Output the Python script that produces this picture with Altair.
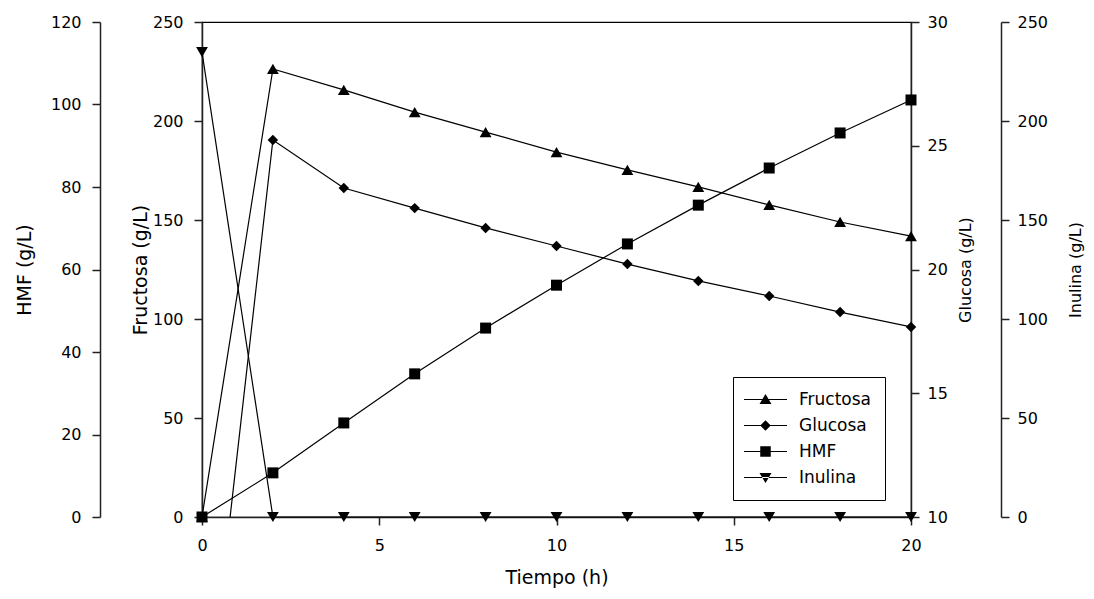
import altair as alt
import pandas as pd

# Data
tiempo = [0, 2, 4, 6, 8, 10, 12, 14, 16, 18, 20]
fructosa = [0, 226.3, 215.7, 204.5, 194.4, 184.3, 175.3, 166.7, 157.6, 149.0, 141.9]
glucosa = [0, 25.23, 23.29, 22.48, 21.68, 20.95, 20.22, 19.54, 18.93, 18.28, 17.68]
hmf = [0, 10.7, 22.8, 34.7, 45.8, 56.2, 66.2, 75.6, 84.6, 93.1, 101.1]
inulina = [234.8, 0, 0, 0, 0, 0, 0, 0, 0, 0, 0]

series = ["Fructosa", "Glucosa", "HMF", "Inulina"]
x_ticks = [0, 5, 10, 15, 20]
hmf_ticks = [0, 20, 40, 60, 80, 100, 120]
fru_ticks = [0, 50, 100, 150, 200, 250]
glu_ticks = [10, 15, 20, 25, 30]
inu_ticks = [0, 50, 100, 150, 200, 250]

df = pd.DataFrame({"t": tiempo, "Fructosa": fructosa, "Glucosa": glucosa,
                   "HMF": hmf, "Inulina": inulina})

FONT = "DejaVu Sans"

# legend symbols: a horizontal line with the marker in the middle
legend_paths = [
    "M-4.3,-0.12H4.3V0.12H-4.3Z M-1.2,0.9L0,-1.1L1.2,0.9Z",
    "M-4.3,-0.12H4.3V0.12H-4.3Z M-1.05,0L0,-1.05L1.05,0L0,1.05Z",
    "M-4.3,-0.12H4.3V0.12H-4.3Z M-1.05,-1.05H1.05V1.05H-1.05Z",
    "M-4.3,-0.12H4.3V0.12H-4.3Z M-1.2,-0.9L0,1.1L1.2,-0.9Z",
]

x_enc = alt.X("t:Q", scale=alt.Scale(domain=[0, 20], nice=False, zero=False),
              axis=alt.Axis(values=x_ticks, title="Tiempo (h)", grid=False,
                            tickSize=8, labelPadding=12, titlePadding=15,
                            labelFlush=False,
                            labelFontSize=16, titleFontSize=19, labelFont=FONT,
                            titleFont=FONT, titleFontWeight="normal",
                            domainColor="#222", tickColor="#222", domainWidth=1.5,
                            tickWidth=1.5, labelColor="black", titleColor="black"))


def yaxis(title, values, orient, offset, title_size, title_pad, angle=None, baseline=None,
          label_pad=11):
    kw = dict(title=title, values=values, orient=orient, offset=offset, grid=False,
              tickSize=8, labelPadding=label_pad, titlePadding=title_pad,
              labelFontSize=16, titleFontSize=title_size, labelFont=FONT, titleFont=FONT,
              titleFontWeight="normal", domainColor="#222", tickColor="#222",
              domainWidth=1.5, tickWidth=1.5, labelColor="black", titleColor="black")
    if angle is not None:
        kw["titleAngle"] = angle
    if baseline is not None:
        kw["titleBaseline"] = baseline
    return alt.Axis(**kw)


def series_layer(field, domain, axis, shape, size, glu=False):
    base = alt.Chart(df).encode(
        x=x_enc,
        y=alt.Y(f"{field}:Q", scale=alt.Scale(domain=domain, nice=False, zero=False), axis=axis),
    )
    line = base.mark_line(color="black", strokeWidth=1.2, clip=glu)
    pts = base.mark_point(shape=shape, size=size, filled=True, color="black", opacity=1)
    if glu:
        pts = pts.transform_filter(f"datum.{field} >= {domain[0]}")
    return alt.layer(line, pts)


fru_layer = series_layer("Fructosa", [0, 250],
                         yaxis("Fructosa (g/L)", fru_ticks, "left", 0, 19, 2),
                         "triangle-up", 140)
glu_layer = series_layer("Glucosa", [10, 30],
                         yaxis("Glucosa (g/L)", glu_ticks, "right", 0, 16, 10, 270, "top", 8),
                         "diamond", 110, glu=True)
hmf_layer = series_layer("HMF", [0, 120],
                         yaxis("HMF (g/L)", hmf_ticks, "left", 102, 19, 16),
                         "square", 121)
inu_layer = series_layer("Inulina", [0, 250],
                         yaxis("Inulina (g/L)", inu_ticks, "right", 90, 16, 20, 270, "top", 8),
                         "triangle-down", 140)

legend_layer = alt.Chart(df).transform_fold(series, as_=["serie", "valor"]).mark_point(
    filled=True, color="black", opacity=0
).encode(
    x=x_enc,
    y=alt.Y("valor:Q", axis=None),
    shape=alt.Shape("serie:N", scale=alt.Scale(domain=series, range=legend_paths),
                    legend=alt.Legend(title=None, orient="none", legendX=531, legendY=355,
                                      strokeColor="black", fillColor="white", padding=14,
                                      symbolSize=100, symbolOffset=10, labelOffset=25,
                                      symbolOpacity=1, symbolFillColor="black",
                                      rowPadding=8, labelFont=FONT, labelFontSize=17,
                                      labelColor="black", cornerRadius=0)),
)

chart = alt.layer(fru_layer, glu_layer, hmf_layer, inu_layer, legend_layer).resolve_scale(
    y="independent"
).properties(
    width=709, height=495,
    padding={"left": 194, "top": 14, "right": 174, "bottom": 73},
    autosize=alt.AutoSizeParams(type="none"),
    background="white",
).configure_view(stroke="black", strokeWidth=1.2)

chart.save("out.html", embed_options={"renderer": "svg", "actions": False})
